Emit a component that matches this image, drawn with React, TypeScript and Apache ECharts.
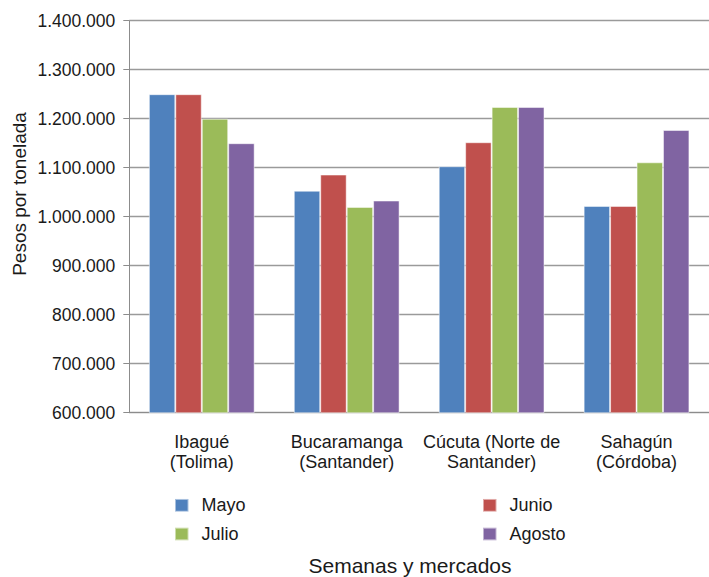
import React, { useEffect, useRef } from "react";
import * as echarts from "echarts";

const categories = ["Ibagué\n(Tolima)", "Bucaramanga\n(Santander)", "Cúcuta (Norte de\nSantander)", "Sahagún\n(Córdoba)"];
const mayo = [1250000, 1053000, 1103000, 1022000];
const junio = [1250000, 1086000, 1152000, 1022000];
const julio = [1200000, 1020000, 1224000, 1111000];
const agosto = [1150000, 1033000, 1224000, 1177000];
const seriesNames = ["Mayo", "Junio", "Julio", "Agosto"];
const colors = ["#4F81BD", "#C0504D", "#9BBB59", "#8064A2"];
const yTitle = "Pesos por tonelada";
const xTitle = "Semanas y mercados";

const fmt = (v: number) => String(v).replace(/\B(?=(\d{3})+(?!\d))/g, ".");

export default function App() {
  const ref = useRef<HTMLDivElement>(null);
  useEffect(() => {
    const chart = echarts.init(ref.current!, null, { renderer: "svg" });
    const font = "'Liberation Sans', Arial, sans-serif";
    const data = [mayo, junio, julio, agosto];
    const legendCommon = {
      orient: "vertical" as const,
      itemWidth: 13.5,
      itemHeight: 12.7,
      itemGap: 10.7,
      padding: 0,
      icon: "rect",
      top: 496.3,
      textStyle: { fontFamily: font, fontSize: 18, lineHeight: 18, color: "#1a1a1a", padding: [0, 0, 0, 8] },
    };
    chart.setOption({
      animation: false,
      backgroundColor: "#fff",
      textStyle: { fontFamily: font },
      grid: { left: 129.3, right: -10, top: 20.7, bottom: 577 - 412.7, containLabel: false },
      legend: [
        { ...legendCommon, data: ["Mayo", "Julio"], left: 174 },
        { ...legendCommon, data: ["Junio", "Agosto"], left: 482 },
      ],
      graphic: [
        {
          type: "text",
          x: 19,
          y: 194,
          rotation: Math.PI / 2,
          style: { text: yTitle, fontFamily: font, fontSize: 19, fill: "#1a1a1a", textAlign: "center", textVerticalAlign: "middle" },
        },
        {
          type: "text",
          x: 410,
          y: 565,
          style: { text: xTitle, fontFamily: font, fontSize: 21, fill: "#1a1a1a", textAlign: "center", textVerticalAlign: "middle" },
        },
      ],
      xAxis: {
        type: "category",
        data: categories,
        axisLine: { lineStyle: { color: "#8c8c8c", width: 1 } },
        axisTick: { show: false },
        axisLabel: { fontFamily: font, fontSize: 18, color: "#1a1a1a", lineHeight: 20.3, margin: 19, interval: 0 },
      },
      yAxis: {
        type: "value",
        min: 600000,
        max: 1400000,
        interval: 100000,
        axisLine: { show: true, lineStyle: { color: "#8c8c8c", width: 1 } },
        axisTick: { show: true, length: 6, inside: false, lineStyle: { color: "#8c8c8c" } },
        axisLabel: { fontFamily: font, fontSize: 17.5, color: "#1a1a1a", margin: 14, formatter: (v: number) => fmt(v) },
        splitLine: { lineStyle: { color: "#9a9a9a", width: 1.3 } },
      },
      series: seriesNames.map((n, i) => ({
        name: n,
        type: "bar",
        data: data[i],
        barGap: "0%",
        barCategoryGap: "27%",
        itemStyle: { color: colors[i], borderColor: "rgba(255,255,255,0.5)", borderWidth: 1 },
      })),
    });
    return () => chart.dispose();
  }, []);
  return <div ref={ref} style={{ position: "absolute", left: 0, top: 0, width: 709, height: 577 }} />;
}
